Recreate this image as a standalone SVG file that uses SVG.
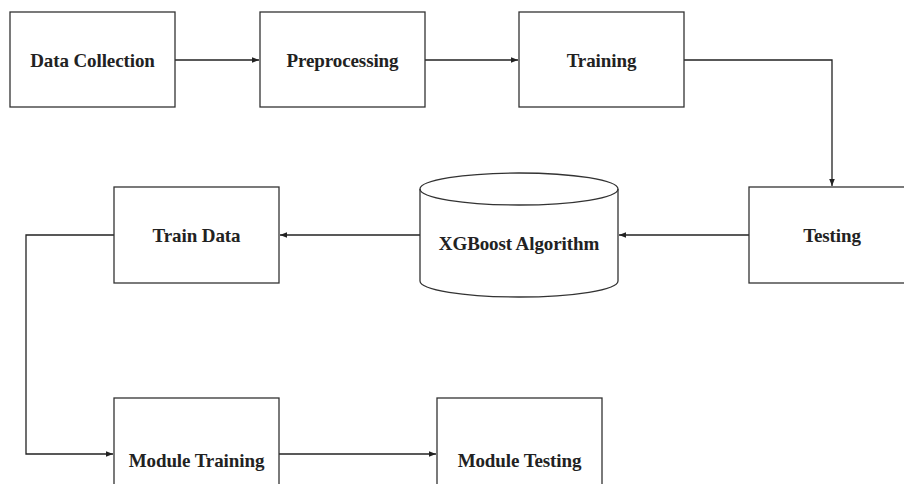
<svg xmlns="http://www.w3.org/2000/svg" width="904" height="484" viewBox="0 0 904 484">
<style>
.box{fill:#fff;stroke:#333;stroke-width:1.3}
.lbl{font-family:"Liberation Serif","Times New Roman",serif;font-weight:bold;font-size:19px;fill:#222;text-anchor:middle;letter-spacing:-0.1px}
.conn{fill:none;stroke:#222;stroke-width:1.3;marker-end:url(#ah)}
</style>
<defs>
<marker id="ah" viewBox="0 0 10 10" refX="10" refY="5" markerWidth="7" markerHeight="7" markerUnits="userSpaceOnUse" orient="auto">
<path d="M0,1 L10,5 L0,9 Z" fill="#222"/>
</marker>
</defs>
<rect width="904" height="484" fill="#fff"/>
<g id="connectors">
<path class="conn" d="M175,60 H259"/>
<path class="conn" d="M425,60 H518"/>
<path class="conn" d="M684,60 H832 V186"/>
<path class="conn" d="M749,235 H619"/>
<path class="conn" d="M420,235 H280"/>
<path class="conn" d="M114,235 H26 V454 H113"/>
<path class="conn" d="M279,454 H436"/>
</g>
<g id="data-collection">
<rect class="box" x="10" y="12" width="165" height="95"/>
<text class="lbl" x="92.5" y="67">Data Collection</text>
</g>
<g id="preprocessing">
<rect class="box" x="260" y="12" width="165" height="95"/>
<text class="lbl" x="342.5" y="67">Preprocessing</text>
</g>
<g id="training">
<rect class="box" x="519" y="12" width="165" height="95"/>
<text class="lbl" x="601.5" y="67">Training</text>
</g>
<g id="testing">
<rect class="box" x="749" y="187" width="166" height="96"/>
<text class="lbl" x="832" y="242">Testing</text>
</g>
<g id="xgboost">
<path class="box" d="M420,189 V281 A99,16 0 0 0 618,281 V189 A99,16 0 0 0 420,189 Z"/>
<path class="box" style="fill:none" d="M420,189 A99,16 0 0 0 618,189"/>
<text class="lbl" x="519" y="250">XGBoost Algorithm</text>
</g>
<g id="train-data">
<rect class="box" x="114" y="187" width="165" height="96"/>
<text class="lbl" x="196.5" y="242">Train Data</text>
</g>
<g id="module-training">
<rect class="box" x="114" y="398" width="165" height="96"/>
<text class="lbl" x="196.5" y="467">Module Training</text>
</g>
<g id="module-testing">
<rect class="box" x="437" y="398" width="165" height="96"/>
<text class="lbl" x="519.5" y="467">Module Testing</text>
</g>
</svg>
